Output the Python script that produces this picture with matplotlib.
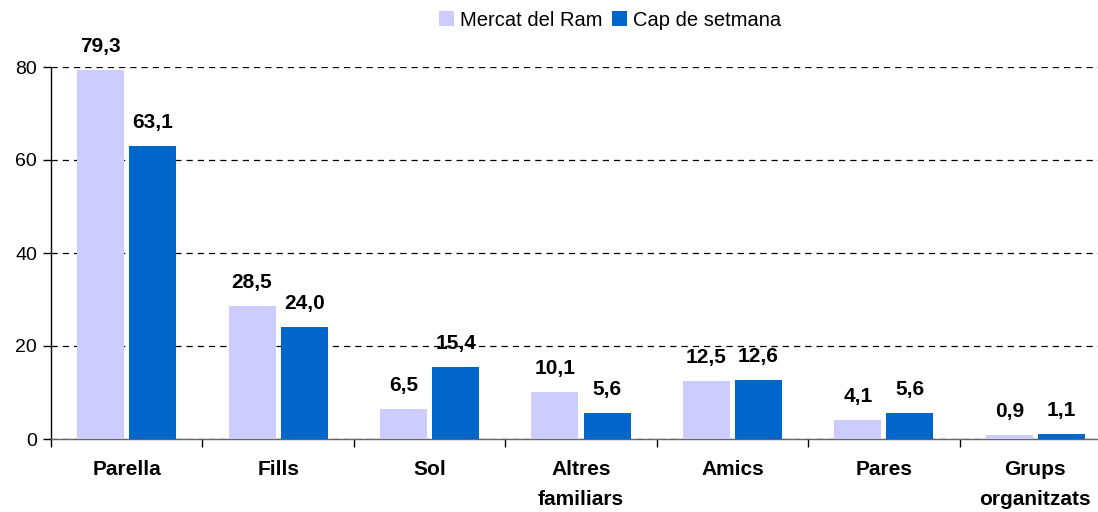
import matplotlib
matplotlib.use("Agg")
import matplotlib.pyplot as plt
import numpy as np

categories = ["Parella", "Fills", "Sol", "Altres\nfamiliars", "Amics", "Pares", "Grups\norganitzats"]
mercat = [79.3, 28.5, 6.5, 10.1, 12.5, 4.1, 0.9]
cap = [63.1, 24.0, 15.4, 5.6, 12.6, 5.6, 1.1]
series_names = ["Mercat del Ram", "Cap de setmana"]
yticks = [0, 20, 40, 60, 80]

plt.rcParams['font.family'] = ['Liberation Sans', 'DejaVu Sans']

W, H = 1098, 512
fig = plt.figure(figsize=(W / 100, H / 100), dpi=100)
left, right, top, bottom = 51, 1111, 67, 439
ax = fig.add_axes([left / W, 1 - bottom / H, (right - left) / W, (bottom - top) / H])

x = np.arange(len(categories))
bw = 0.31
off = 0.172
b1 = ax.bar(x - off, mercat, bw, color="#CCCCFF", label=series_names[0], zorder=3)
b2 = ax.bar(x + off, cap, bw, color="#0066CC", label=series_names[1], zorder=3)

def fmt(v):
    return f"{v:.1f}".replace(".", ",")

for bars, vals in ((b1, mercat), (b2, cap)):
    for r, v in zip(bars, vals):
        ax.annotate(fmt(v), (r.get_x() + r.get_width() / 2, v), xytext=(0, 13),
                    textcoords="offset points", ha="center", va="baseline",
                    fontsize=15, fontweight="bold", color="black")

ax.set_xlim(-0.5, len(categories) - 0.5)
ax.set_ylim(0, 80)
ax.set_yticks(yticks)
ax.set_yticklabels([str(t) for t in yticks], fontsize=14)
ax.yaxis.grid(True, linestyle=(0, (5, 4)), color="black", linewidth=0.9, zorder=0)
ax.set_axisbelow(True)

ax.set_xticks(np.arange(len(categories) + 1) - 0.5)
ax.set_xticklabels([])
ax.set_xticks(x, minor=True)
ax.set_xticklabels(categories, minor=True, fontsize=15, fontweight="bold", linespacing=1.75)
ax.tick_params(axis="x", which="major", length=6, direction="out", width=1)
ax.tick_params(axis="x", which="minor", length=0, pad=15)
ax.tick_params(axis="y", length=6, direction="out", width=1, pad=4)

for s in ("top", "right"):
    ax.spines[s].set_visible(False)
ax.spines["left"].set_linewidth(1)
ax.spines["bottom"].set_color("#666666")
ax.spines["bottom"].set_linewidth(1)

fig.legend(handles=[b1, b2], labels=series_names, loc="center", bbox_to_anchor=(610 / W, 1 - 20 / H),
           ncol=2, frameon=False, fontsize=14.5, handlelength=0.75, handleheight=0.75,
           handletextpad=0.3, columnspacing=0.5, borderaxespad=0)

fig.savefig("out.png", dpi=100)
